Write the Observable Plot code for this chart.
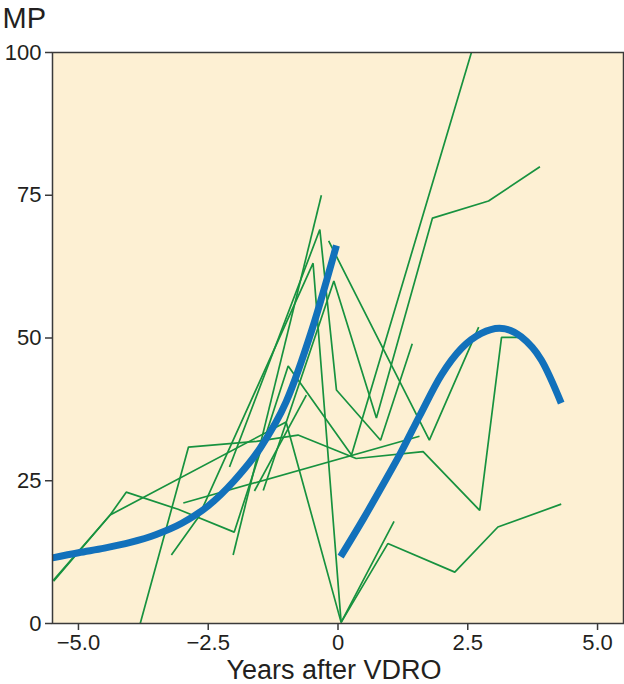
<!DOCTYPE html>
<html>
<head>
<meta charset="utf-8">
<script src="https://cdn.jsdelivr.net/npm/d3@7"></script>
<script src="https://cdn.jsdelivr.net/npm/@observablehq/plot@0.6"></script>
<style>
  html, body { margin: 0; padding: 0; background: #ffffff; }
  #chart { width: 624px; height: 684px; }
</style>
</head>
<body>
<div id="chart"></div>
<script>
// Individual patient trajectories: [years after VDRO, MP]
const trajA = [[-5.48, 7.4], [-4.39, 19.0], [-1.0, 35.3], [0.06, 0.2], [1.08, 17.9]];
const trajB = [[-5.48, 7.6], [-4.39, 19.0], [-4.08, 23.0], [-3.08, 20.0], [-2.0, 16.0], [-0.96, 45.1], [0.26, 29.5], [2.57, 100]];
const trajC = [[-3.81, 0], [-2.88, 30.9], [-1.57, 31.9], [-0.77, 33.0], [0.35, 28.9], [1.64, 30.1], [2.73, 19.8], [3.15, 50.1], [3.47, 50.1]];
const trajD = [[-3.21, 12.0], [-2.69, 18.6], [-0.48, 63.1], [0.06, 0.2], [0.96, 14.0], [2.25, 9.0], [3.08, 16.9], [4.30, 20.9]];
const trajE = [[-2.09, 27.4], [-0.35, 69.0], [-0.03, 40.9], [0.82, 32.1], [1.43, 49.0]];
const trajF = [[-2.02, 12.0], [-0.32, 75.0]];
const trajG = [[-1.44, 23.3], [-0.08, 60.0], [0.74, 36.0], [1.82, 71.0], [2.90, 74.0], [3.89, 80.0]];
const trajH = [[-0.18, 67.0], [1.76, 32.1], [2.71, 51.9]];
const trajI = [[-2.98, 21.1], [1.57, 32.8]];
const trajJ = [[-1.61, 23.2], [-0.61, 40.0]];

// Fitted trend before and after VDRO
const fitBefore = [[-5.5, 11.5], [-5.0, 12.4], [-4.5, 13.2], [-4.0, 14.2], [-3.5, 15.6], [-3.0, 17.6], [-2.5, 20.6], [-2.0, 25.0], [-1.5, 30.7], [-1.0, 38.8], [-0.5, 51.5], [-0.03, 66.2]];
const fitAfter = [[0.05, 11.7], [0.5, 18.5], [0.84, 23.9], [1.22, 30.1], [1.58, 36.5], [1.99, 43.5], [2.38, 48.2], [2.76, 50.8], [3.11, 51.7], [3.53, 50.2], [3.92, 46.1], [4.3, 38.6]];

const xTicks = [-5, -2.5, 0, 2.5, 5];
const yTicks = [0, 25, 50, 75, 100];
const xLabel = "Years after VDRO";
const yLabel = "MP";

const trajectories = [trajA, trajB, trajC, trajD, trajE, trajF, trajG, trajH, trajI, trajJ];
const table = trajectories.flatMap((t, i) => t.map(([x, y]) => ({id: i, x, y})));
const fits = [fitBefore, fitAfter].flatMap((t, i) => t.map(([x, y]) => ({seg: i, x, y})));

const fmtX = d => d === 0 ? "0" : d.toFixed(1).replace("-", "\u2212");

const chart = Plot.plot({
  width: 624,
  height: 684,
  marginTop: 52,
  marginLeft: 52,
  marginRight: 1,
  marginBottom: 61,
  style: {fontFamily: "'Liberation Sans', Arial, Helvetica, sans-serif", fontSize: "22px", color: "#231f20", background: "#ffffff"},
  x: {domain: [-5.5, 5.5]},
  y: {domain: [0, 100]},
  marks: [
    Plot.frame({fill: "#fdf0d3", stroke: null}),
    Plot.line(table, {x: "x", y: "y", z: "id", stroke: "#17923f", strokeWidth: 1.7, strokeLinecap: "butt", strokeLinejoin: "miter"}),
    Plot.line(fits, {x: "x", y: "y", z: "seg", stroke: "#1271bb", strokeWidth: 7, curve: "monotone-x", strokeLinecap: "butt"}),
    Plot.frame({stroke: "#3a3a3a", strokeWidth: 1.5}),
    Plot.axisX({ticks: xTicks, tickFormat: fmtX, tickSize: 7, tickPadding: 4, fontSize: 22, label: null, stroke: "#3a3a3a", strokeWidth: 1.5}),
    Plot.axisY({ticks: yTicks, tickSize: 7, tickPadding: 4, fontSize: 22, label: null, stroke: "#3a3a3a", strokeWidth: 1.5}),
    Plot.text([yLabel], {frameAnchor: "top-left", dx: -50, dy: -25, text: d => d, textAnchor: "start", lineAnchor: "bottom", fontSize: 29, fill: "#231f20"}),
    Plot.text([xLabel], {frameAnchor: "bottom", dx: -4, dy: 55, text: d => d, textAnchor: "middle", lineAnchor: "bottom", fontSize: 27, fill: "#231f20"})
  ]
});
document.getElementById("chart").appendChild(chart);
</script>
</body>
</html>
